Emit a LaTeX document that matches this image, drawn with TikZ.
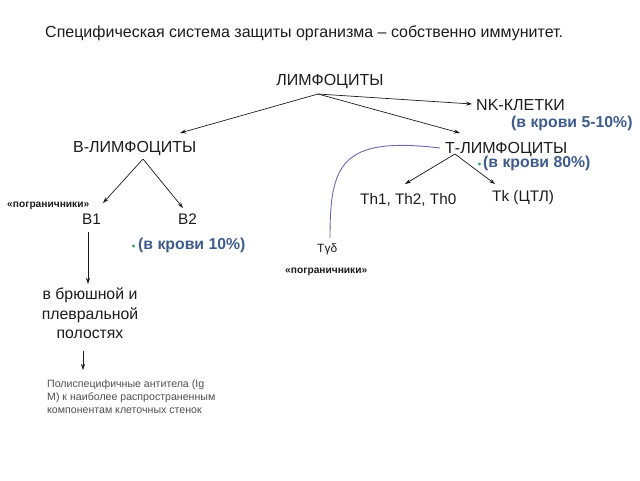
\documentclass[tikz,border=0pt]{standalone}
\usepackage{fontspec}
\setmainfont{Liberation Sans}
\usetikzlibrary{arrows.meta}
\definecolor{txt}{RGB}{28,28,28}
\definecolor{bluelbl}{RGB}{62,92,140}
\definecolor{curvec}{RGB}{105,105,175}
\definecolor{dotg}{RGB}{50,165,85}
\definecolor{smallgray}{RGB}{80,80,80}
\begin{document}
\begin{tikzpicture}[x=1pt,y=-1pt,
  every node/.style={inner sep=0pt,text=txt},
  big/.style={font=\fontsize{16}{19}\selectfont,anchor=base west},
  mid/.style={font=\fontsize{15.3}{18}\selectfont,anchor=base west},
  bluebold/.style={font=\fontsize{15.8}{18}\selectfont\bfseries,text=bluelbl,anchor=base west},
  border/.style={font=\fontsize{10.2}{12}\selectfont\bfseries,anchor=base west},
  arr/.style={draw=txt,line width=0.7pt,-{Stealth[length=6pt,width=4pt]}},
  gdot/.style={circle,fill=dotg,minimum size=3.4pt,inner sep=0pt}]
\useasboundingbox (0,0) rectangle (640,480);
\fill[white] (0,0) rectangle (640,480);

\node[big] (title) at (45,37) {Специфическая система защиты организма – собственно иммунитет.};

\node[big,anchor=base] (lym) at (330,85) {ЛИМФОЦИТЫ};
\coordinate (lymo) at (318,94);

\node[big] (nk) at (476,110) {NK-КЛЕТКИ};
\coordinate (nkend) at (472,104);
\node[bluebold] (nkb) at (511,127) {(в крови 5-10\%)};

\node[big] (bl) at (73,152) {В-ЛИМФОЦИТЫ};
\coordinate (blend) at (180,133);
\coordinate (blo) at (143,159);

\node[big] (tl) at (445,153) {Т-ЛИМФОЦИТЫ};
\coordinate (tlend) at (460,133);
\coordinate (tlo) at (455,154);
\node[gdot] (d80) at (479.5,164) {};
\node[bluebold] (t80) at (483,167) {(в крови 80\%)};

\node[mid] (th) at (360,204) {Th1, Th2, Th0};
\coordinate (thend) at (405,184);
\node[mid] (tk) at (492,201) {Tk (ЦТЛ)};
\coordinate (tkend) at (495,184);

\coordinate (cstart) at (440,148);
\coordinate (cend) at (330,238);
\node[font=\fontsize{12}{14}\selectfont,anchor=base west] (tgd) at (317,252) {Tγδ};
\node[border] (pog2) at (285,273) {«пограничники»};

\node[border] (pog1) at (7,207) {«пограничники»};
\node[mid] (b1) at (82,224) {B1};
\node[mid] (b2) at (178,224) {B2};
\coordinate (b1end) at (103,203);
\coordinate (b2end) at (183,208);
\node[gdot] (d10) at (133.5,246) {};
\node[bluebold] (b10) at (138,249) {(в крови 10\%)};

\coordinate (b1o) at (88,232);
\coordinate (caven) at (88,284);
\node[font=\fontsize{15.8}{19.5}\selectfont,align=center,anchor=north] (cav) at (90,288) {в брюшной и\\плевральной\\полостях};
\coordinate (cavo) at (83,351);
\coordinate (polyend) at (83,370);
\node[font=\fontsize{10.6}{13}\selectfont,text=smallgray,align=left,anchor=north west] (poly) at (47,380) {Полиспецифичные антитела (Ig\\M) к наиболее распространенным\\компонентам клеточных стенок};

\draw[arr] (lymo) -- (nkend);
\draw[arr] (lymo) -- (blend);
\draw[arr] (lymo) -- (tlend);
\draw[arr] (blo) -- (b1end);
\draw[arr] (blo) -- (b2end);
\draw[arr] (tlo) -- (thend);
\draw[arr] (tlo) -- (tkend);
\draw[arr] (b1o) -- (caven);
\draw[arr] (cavo) -- (polyend);
\draw[curvec,line width=0.9pt] (cstart) .. controls (340,136) and (330,165) .. (cend);
\end{tikzpicture}
\end{document}
